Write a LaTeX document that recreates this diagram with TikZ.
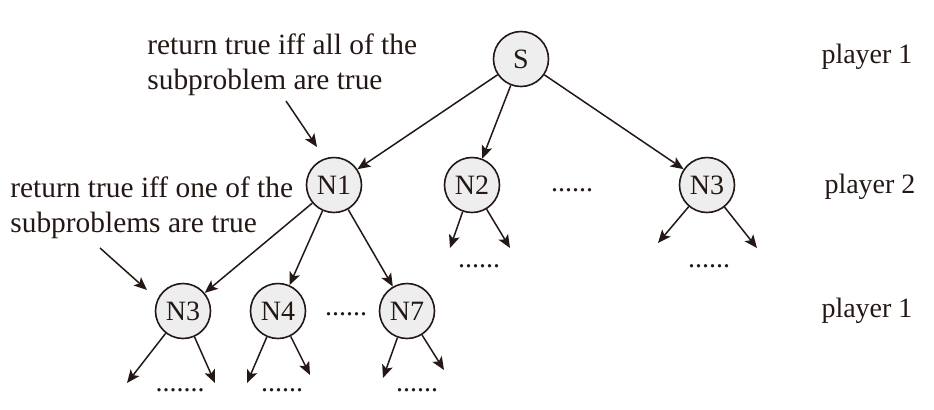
\documentclass[tikz,border=0pt]{standalone}
\usepackage{fontspec}
\setmainfont{Liberation Serif}
\usetikzlibrary{arrows.meta}
\definecolor{ink}{HTML}{231815}
\definecolor{nodefill}{HTML}{EEEEEE}
\tikzset{
  state/.style={circle,draw=ink,fill=nodefill,line width=0.8pt,minimum size=27.5pt,inner sep=0pt,font=\fontsize{14}{17}\selectfont,text=ink},
  arr/.style={-{Stealth[length=6.5pt,width=5.5pt,inset=1.5pt]},draw=ink,line width=0.75pt},
  lbl/.style={font=\fontsize{14}{17}\selectfont,text=ink,inner sep=0pt},
  note/.style={lbl,font=\fontsize{14.7}{17.3}\selectfont,anchor=west,align=left},
}
\begin{document}
\begin{tikzpicture}[x=0.5pt,y=-0.5pt]
            \useasboundingbox (0,0) rectangle (934,409);
            % game tree
            \node[state] (S) at (521,59) {S};
            \node[state] (N1) at (334,185) {N1};
            \node[state] (N2) at (472,185) {N2};
            \node[state] (N3a) at (707,185) {N3};
            \node[lbl] (dotsA) at (572,190) {......};
            \node[state] (N3b) at (183,311) {N3};
            \node[state] (N4) at (278,311) {N4};
            \node[state] (N7) at (407,311) {N7};
            \node[lbl] (dotsB) at (346,314) {......};
            \draw[arr] (S) -- (N1);
            \draw[arr] (S) -- (N2);
            \draw[arr] (S) -- (N3a);
            \draw[arr] (N1) -- (N3b);
            \draw[arr] (N1) -- (N4);
            \draw[arr] (N1) -- (N7);
            % children below
            \coordinate (l1) at (450,248);
            \coordinate (l2) at (510,248);
            \coordinate (l3) at (658,243);
            \coordinate (l4) at (757,248);
            \coordinate (l5) at (127,383);
            \coordinate (l6) at (215,383);
            \coordinate (l7) at (247,383);
            \coordinate (l8) at (310,375);
            \coordinate (l9) at (383,378);
            \coordinate (l10) at (444,370);
            \draw[arr] (N2) -- (l1);
            \draw[arr] (N2) -- (l2);
            \draw[arr] (N3a) -- (l3);
            \draw[arr] (N3a) -- (l4);
            \draw[arr] (N3b) -- (l5);
            \draw[arr] (N3b) -- (l6);
            \draw[arr] (N4) -- (l7);
            \draw[arr] (N4) -- (l8);
            \draw[arr] (N7) -- (l9);
            \draw[arr] (N7) -- (l10);
            \node[lbl] (dotsC) at (479,266) {......};
            \node[lbl] (dotsD) at (709,266) {......};
            \node[lbl] (dotsE) at (180,390) {.......};
            \node[lbl] (dotsF) at (282,390) {......};
            \node[lbl] (dotsG) at (417,390) {......};
            % players
            \node[lbl] (pl1) at (867,57) {player 1};
            \node[lbl] (pl2) at (870,187) {player 2};
            \node[lbl] (pl3) at (867,311) {player 1};
            % notes
            \node[note] (allnote) at (147,65) {return true iff all of the\\subproblem are true};
            \node[note] (onenote) at (10,208) {return true iff one of the\\subproblems are true};
            \coordinate (a1) at (286,101);
            \coordinate (b1) at (317,147);
            \coordinate (a2) at (100,248);
            \coordinate (b2) at (147,290);
            \draw[arr] (a1) -- (b1);
            \draw[arr] (a2) -- (b2);
    \end{tikzpicture}
\end{document}
